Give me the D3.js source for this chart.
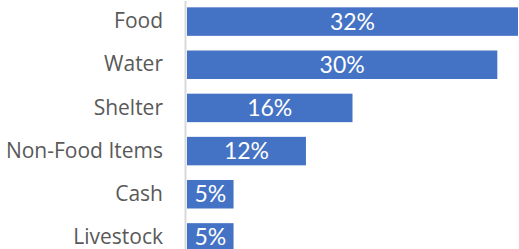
<!DOCTYPE html>
<html>
<head>
<meta charset="utf-8">
<script src="https://cdn.jsdelivr.net/npm/d3@7"></script>
<style>
  body { margin: 0; background: #fff; }
  svg { display: block; }
</style>
</head>
<body>
<div id="chart"></div>
<script>
// categories and values (percent)
var categories = ['Food', 'Water', 'Shelter', 'Non-Food Items', 'Cash', 'Livestock'];
var values = [32, 30, 16, 11.5, 4.5, 4.5];

var width = 519, height = 249;
var svg = d3.select('#chart').append('svg')
    .attr('width', width)
    .attr('height', height);

var xscale = d3.scaleLinear().domain([0, 32]).range([187, 518]);
var yscale = d3.scaleBand().domain(categories).range([0, 259])
    .paddingInner(0.34).paddingOuter(0.17);

var data = categories.map(function(c, i) { return {cat: c, val: values[i]}; });

// bars
svg.append('g').selectAll('rect')
    .data(data)
    .enter().append('rect')
    .attr('x', xscale(0))
    .attr('y', function(d) { return yscale(d.cat); })
    .attr('width', function(d) { return xscale(d.val) - xscale(0); })
    .attr('height', yscale.bandwidth())
    .attr('fill', '#4472c4');

// category axis
var yaxis = d3.axisLeft(yscale).tickSize(0).tickPadding(22);
var gy = svg.append('g')
    .attr('transform', 'translate(' + 185 + ',0)')
    .call(yaxis);
gy.select('.domain').remove();
gy.selectAll('text')
    .style('font-family', '"Open Sans", sans-serif')
    .style('font-size', '21px')
    .style('fill', '#595959');

svg.append('line')
    .attr('x1', 185.5).attr('x2', 185.5)
    .attr('y1', 1).attr('y2', height)
    .style('stroke', '#d9d9d9')
    .style('stroke-width', 2);

// data labels
svg.append('g').selectAll('text')
    .data(data)
    .enter().append('text')
    .attr('x', function(d) { return (xscale(0) + xscale(d.val)) / 2; })
    .attr('y', function(d) { return yscale(d.cat) + yscale.bandwidth() / 2; })
    .attr('dy', '0.35em')
    .style('text-anchor', 'middle')
    .style('font-family', 'Lato, sans-serif')
    .style('font-size', '23px')
    .style('fill', '#fff')
    .text(function(d) { return Math.round(d.val) + '%'; });
</script>
</body>
</html>
